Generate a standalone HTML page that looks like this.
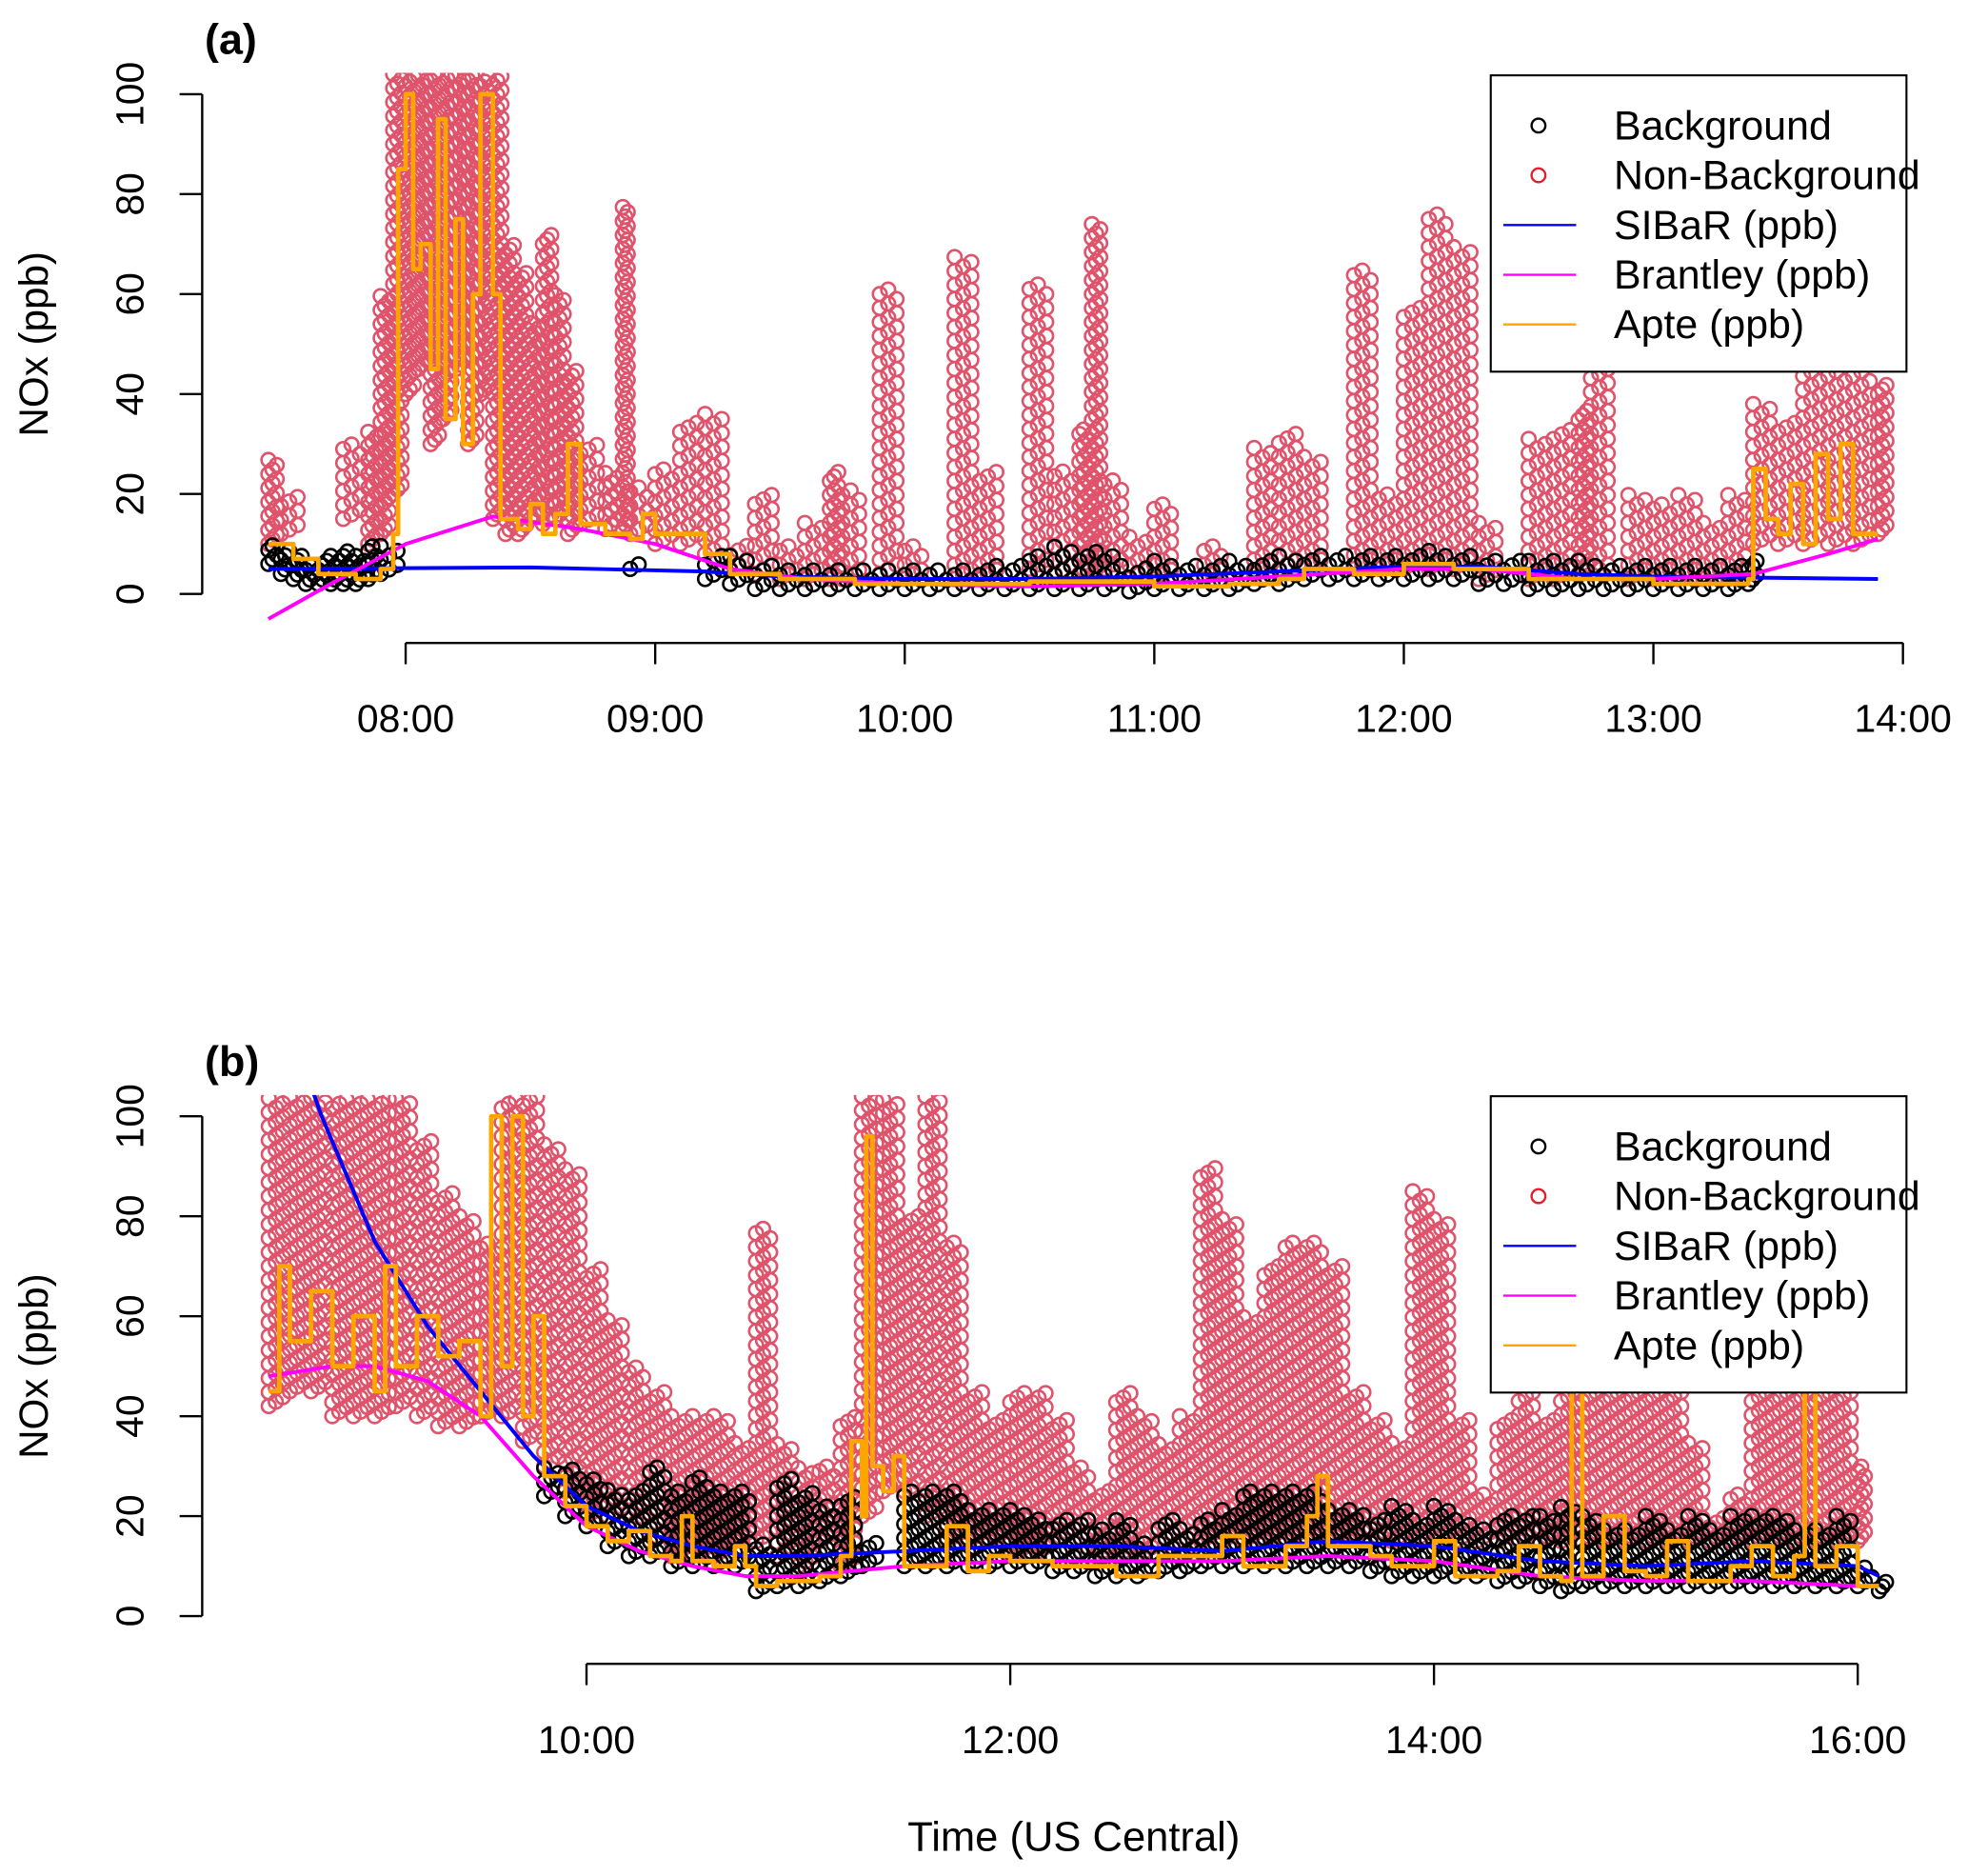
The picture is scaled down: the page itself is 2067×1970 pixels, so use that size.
<!DOCTYPE html>
<html><head><meta charset="utf-8"><style>
html,body{margin:0;padding:0;background:#fff;}
svg{display:block;font-family:"Liberation Sans",Arial,sans-serif;}
</style></head><body>
<svg id="chart" width="2067" height="1970" viewBox="0 0 1567 1494" preserveAspectRatio="none" xmlns="http://www.w3.org/2000/svg">
<defs>
<clipPath id="clipA"><rect x="150" y="58" width="1410" height="460"/></clipPath>
<clipPath id="clipB"><rect x="150" y="872" width="1410" height="460"/></clipPath>
</defs>
<g id="panelA"></g>
<g id="panelB"></g>
</svg>
<script>
// ---------- Panel (a) data ----------
const aBgT=[7.45,7.5,7.55,7.6,7.65,7.7,7.75,7.8,7.85,7.9,8.9,9.2,9.3,9.4,9.5,9.6,9.7,9.8,9.9,10.0,10.1,10.2,10.3,10.4,10.5,10.6,10.7,10.8,10.9,11.0,11.1,11.2,11.3,11.4,11.5,11.6,11.7,11.8,11.9,12.0,12.1,12.2,12.3,12.4,12.5,12.6,12.7,12.8,12.9,13.0,13.1,13.2,13.3,13.38];
const aBgLo=[6,4,3,2,2,2,2,2,3,4,5,3,2,1,1,1,1,1,1,1,1,1,1,1,1,1,1,1,0.5,1,1,1,1,2,2,3,3,3,3,3,3,3,2,2,1,1,1,1,1,1,1,1,1,2];
const aBgHi=[10,9,8,6,7,8,9,8,10,10,6,8,8,6,5,5,5,5,5,5,5,5,6,6,8,10,9,8,6,7,6,6,7,7,8,8,8,8,8,8,9,8,7,7,7,7,7,6,6,6,6,6,6,7];
const aNbT=[7.45,7.5,7.75,7.85,7.9,7.95,8.0,8.05,8.1,8.15,8.2,8.25,8.3,8.35,8.4,8.45,8.5,8.55,8.6,8.65,8.7,8.8,8.87,8.9,9.0,9.1,9.2,9.3,9.4,9.5,9.6,9.7,9.75,9.9,10.0,10.2,10.3,10.5,10.6,10.7,10.75,10.8,10.9,11.0,11.2,11.4,11.5,11.6,11.8,11.9,12.0,12.1,12.2,12.3,12.5,12.6,12.7,12.75,12.9,13.0,13.1,13.2,13.3,13.4,13.5,13.6,13.7,13.8,13.9];
const aNbLo=[10,12,15,10,12,20,40,45,30,35,45,30,40,15,12,12,15,14,15,12,14,13,13,12,10,10,8,5,4,3,3,3,3,4,3,3,3,5,4,4,4,5,3,3,3,4,5,5,5,5,5,5,5,3,3,3,4,4,3,3,3,3,3,10,10,10,10,10,12];
const aNbHi=[27,20,30,33,60,104,104,104,104,104,104,104,104,104,70,65,55,72,60,45,30,25,78,22,25,35,36,10,20,10,15,25,21,61,10,68,25,62,25,33,74,23,12,18,10,30,32,28,65,20,58,76,70,15,31,33,37,45,20,18,20,15,20,38,35,45,45,45,42];
const aApteT=[7.45,7.55,7.65,7.8,7.9,7.95,7.97,8.0,8.03,8.06,8.1,8.13,8.16,8.2,8.23,8.27,8.3,8.35,8.38,8.45,8.5,8.55,8.6,8.65,8.7,8.8,8.9,8.95,9.0,9.2,9.3,9.5,9.8,10.0,10.5,11.0,11.3,11.5,11.6,11.8,12.0,12.2,12.5,12.8,13.0,13.3,13.38,13.4,13.45,13.5,13.55,13.6,13.65,13.7,13.75,13.8,13.9];
const aApteV=[10,7,4,3,5,12,85,100,65,70,45,95,35,75,30,60,100,60,15,13,18,12,16,30,14,12,11,16,12,8,4,3,2,2,2.5,1.5,2,3,5,4,6,5,3,3,2,2,3,25,15,12,22,10,28,15,30,12,12];
const aSibT=[7.45,8.5,9.2,9.5,10,10.5,11,11.5,12,12.3,12.7,13,13.9];
const aSibV=[5,5.3,4.5,3.5,3,3,3.5,4.5,5.5,5.5,4,3.5,3];
const aBraT=[7.45,7.7,8.0,8.35,8.7,9.0,9.3,9.6,10,10.5,11,11.5,12,12.3,12.7,13.0,13.4,13.7,13.9];
const aBraV=[-5,2,10,15.5,13,10,5,3,2,1.5,2,3.5,5,5,3,3,4,8,11];
const aTicksT=[8,9,10,11,12,13,14];
const aTickLabels=["08:00","09:00","10:00","11:00","12:00","13:00","14:00"];
// ---------- Panel (b) data ----------
const bNbT=[8.5,8.6,8.7,8.8,8.9,9.0,9.1,9.2,9.3,9.4,9.5,9.6,9.7,9.8,9.9,10.0,10.1,10.2,10.3,10.4,10.5,10.6,10.7,10.8,10.9,11.0,11.1,11.2,11.3,11.4,11.5,11.6,11.7,11.8,11.9,12.0,12.1,12.2,12.3,12.4,12.5,12.6,12.7,12.8,12.9,13.0,13.1,13.2,13.3,13.4,13.5,13.6,13.7,13.8,13.9,14.0,14.1,14.2,14.3,14.4,14.5,14.6,14.7,14.8,14.9,15.0,15.1,15.2,15.3,15.4,15.5,15.6,15.7,15.8,15.9,16.0];
const bNbLo=[42,45,45,40,40,40,42,40,38,38,40,40,35,30,25,20,20,18,15,12,12,12,15,15,12,10,15,10,20,25,25,20,15,15,15,12,12,15,12,12,12,12,12,12,15,15,15,15,15,15,15,15,15,15,15,15,15,15,15,15,15,15,15,15,15,15,15,15,15,15,15,15,15,15,15,15];
const bNbHi=[104,104,104,104,104,104,104,95,85,80,75,104,104,95,90,70,60,50,45,40,40,40,35,78,35,30,30,40,104,104,80,104,75,45,40,45,45,40,30,25,45,40,35,40,90,80,60,70,75,75,70,45,40,35,85,80,40,25,40,45,40,45,45,45,45,45,45,35,20,25,45,45,45,45,45,30];
const bBgT=[9.8,9.9,10.0,10.1,10.2,10.3,10.4,10.5,10.6,10.7,10.8,10.9,11.0,11.1,11.2,11.3,11.5,11.6,11.7,11.8,11.9,12.0,12.1,12.2,12.3,12.4,12.5,12.6,12.7,12.8,12.9,13.0,13.1,13.2,13.3,13.4,13.5,13.6,13.7,13.8,13.9,14.0,14.1,14.2,14.3,14.4,14.5,14.6,14.7,14.8,14.9,15.0,15.1,15.2,15.3,15.4,15.5,15.6,15.7,15.8,15.9,16.0,16.1];
const bBgLo=[24,20,18,14,12,12,10,10,10,10,5,6,6,7,8,10,10,10,10,10,10,10,10,9,9,8,8,8,9,9,10,10,10,10,10,10,10,10,9,8,8,8,8,8,7,7,6,5,6,6,6,6,6,6,6,6,6,6,6,6,6,6,5];
const bBgHi=[30,30,28,26,25,30,25,28,25,25,15,28,25,22,24,15,25,25,25,22,22,22,20,20,20,18,20,15,20,18,20,22,25,25,25,25,22,22,20,22,20,22,20,18,20,20,20,22,20,18,18,20,18,20,18,20,20,20,18,18,20,10,7];
const bApteT=[8.5,8.55,8.6,8.7,8.8,8.9,9.0,9.05,9.1,9.2,9.3,9.4,9.5,9.55,9.6,9.65,9.7,9.75,9.8,9.9,10.0,10.1,10.2,10.3,10.4,10.45,10.5,10.6,10.7,10.75,10.8,10.9,11.0,11.1,11.2,11.25,11.3,11.32,11.35,11.4,11.45,11.5,11.6,11.7,11.8,11.9,12.0,12.2,12.4,12.5,12.7,12.9,13.0,13.1,13.3,13.4,13.45,13.5,13.7,13.8,14.0,14.1,14.3,14.4,14.5,14.6,14.65,14.7,14.8,14.9,15.0,15.1,15.2,15.4,15.5,15.6,15.7,15.75,15.8,15.9,16.0,16.1];
const bApteV=[45,70,55,65,50,60,45,70,50,60,52,55,40,100,50,100,40,60,28,22,18,15,17,12,11,20,11,10,14,10,6,7,7,8,12,35,20,96,30,25,32,10,10,18,9,12,11,10,10,8,12,12,16,10,14,20,28,14,12,10,15,8,9,14,8,7,50,8,20,9,8,15,7,10,14,8,12,45,10,14,6,6];
const bSibT=[8.5,8.75,9.0,9.25,9.5,9.75,10.0,10.25,10.5,10.75,11.0,11.5,12.0,12.5,13.0,13.5,14.0,14.5,15.0,15.5,16.0,16.1];
const bSibV=[130,100,75,58,45,32,22,17,14,12,12,13,14,14,13,15,14,11,10,11,10,8];
const bBraT=[8.5,8.8,9.0,9.25,9.5,9.75,10.0,10.25,10.5,10.75,11.0,11.5,12.0,12.5,13.0,13.5,14.0,14.5,15.0,15.5,16.0,16.1];
const bBraV=[48,50,50,47,40,28,18,13,10,8,8,10,11,11,11,12,11,8,7,7,6,6];
const bTicksT=[10,12,14,16];
const bTickLabels=["10:00","12:00","14:00","16:00"];
const yTicks=[0,20,40,60,80,100];

const NS="http://www.w3.org/2000/svg";
function mk(tag,attrs,parent){const e=document.createElementNS(NS,tag);for(const k in attrs)e.setAttribute(k,attrs[k]);parent.appendChild(e);return e;}

function drawPanel(root,cfg){
  const X=t=>cfg.x0+(t-cfg.t0)*cfg.pxPerH, Y=v=>cfg.y0-v*3.98;
  const clip=mk('g',{'clip-path':'url(#'+cfg.clip+')'},root);
  function cloud(T,Lo,Hi,color,name){
    const g=mk('g',{fill:'none',stroke:color,'stroke-width':2},clip);
    
    
    for(let i=0;i<T.length;i++){
      const next=i<T.length-1?Math.min(T[i+1]-T[i],0.1):0.05;
      for(let s=0;s<3;s++){
        const t=T[i]+next*s/3;
        for(let v=Lo[i]+s*0.9;v<=Hi[i]+0.01;v+=2.8){
          mk('circle',{cx:X(t).toFixed(1),cy:Y(v).toFixed(1),r:5.5},g);
        }
      }
    }
  }
  cloud(cfg.nbT,cfg.nbLo,cfg.nbHi,'#DF536B','non-background-points');
  cloud(cfg.bgT,cfg.bgLo,cfg.bgHi,'#000','background-points');
  function line(T,V,color,w,name,step){
    let d='';
    for(let i=0;i<T.length;i++){
      if(i===0)d+='M'+X(T[i]).toFixed(1)+','+Y(V[i]).toFixed(1);
      else if(step)d+='H'+X(T[i]).toFixed(1)+'V'+Y(V[i]).toFixed(1);
      else d+='L'+X(T[i]).toFixed(1)+','+Y(V[i]).toFixed(1);
    }
    const p=mk('path',{d:d,fill:'none',stroke:color,'stroke-width':w,'stroke-linejoin':'round'},clip);
    
    
  }
  line(cfg.sibT,cfg.sibV,'#0000FF',3,'sibar-line',false);
  line(cfg.braT,cfg.braV,'#FF00FF',3,'brantley-line',false);
  line(cfg.apT,cfg.apV,'#FFA500',3.6,'apte-line',true);
  const ya=mk('g',{stroke:'#000','stroke-width':1.8},root);
  
  
  mk('line',{x1:161,x2:161,y1:Y(0),y2:Y(100)},ya);
  yTicks.forEach(v=>{
    mk('line',{x1:143,x2:161,y1:Y(v),y2:Y(v)},ya);
    const tx=mk('text',{x:114,y:Y(v),'font-size':31,'text-anchor':'middle',transform:'rotate(-90 114 '+Y(v)+')',stroke:'none',fill:'#000'},ya);
    tx.textContent=v;
    
    
  });
  const yt=mk('text',{x:38,y:(Y(0)+Y(100))/2,'font-size':32,'text-anchor':'middle',transform:'rotate(-90 38 '+(Y(0)+Y(100))/2+')'},root);
  yt.textContent='NOx (ppb)';
  
  
  const xa=mk('g',{stroke:'#000','stroke-width':1.8},root);
  
  
  const ticks=cfg.ticks;
  mk('line',{x1:X(ticks[0]),x2:X(ticks[ticks.length-1]),y1:cfg.axY,y2:cfg.axY},xa);
  ticks.forEach((t,i)=>{
    mk('line',{x1:X(t),x2:X(t),y1:cfg.axY,y2:cfg.axY+17},xa);
    const tx=mk('text',{x:X(t),y:cfg.axY+71,'font-size':31,'text-anchor':'middle',stroke:'none',fill:'#000'},xa);
    tx.textContent=cfg.labels[i];
    
    
  });
  const pl=mk('text',{x:163,y:cfg.y0-430,'font-size':34,'font-weight':'bold'},root);
  pl.textContent=cfg.tag;
  
  
  const lg=mk('g',{},root);
  
  
  const ly=cfg.legY;
  mk('rect',{x:1187,y:ly,width:331,height:236,fill:'#fff',stroke:'#000','stroke-width':1.6},lg);
  const items=[['Background','pt','#000'],['Non-Background','pt','#E0202F'],['SIBaR (ppb)','ln','#0000FF'],['Brantley (ppb)','ln','#FF00FF'],['Apte (ppb)','ln','#FFA500']];
  items.forEach((it,i)=>{
    const yy=ly+40+i*39.6;
    const e=mk('g',{},lg);
    
    
    if(it[1]==='pt')mk('circle',{cx:1225,cy:yy,r:5.5,fill:'none',stroke:it[2],'stroke-width':1.8},e);
    else mk('line',{x1:1197,x2:1255,y1:yy,y2:yy,stroke:it[2],'stroke-width':1.8},e);
    const t=mk('text',{x:1285,y:yy+11,'font-size':32.5},e);
    t.textContent=it[0];
  });
}
drawPanel(document.getElementById('panelA'),{x0:323,t0:8,pxPerH:198.7,y0:473,clip:'clipA',
  nbT:aNbT,nbLo:aNbLo,nbHi:aNbHi,bgT:aBgT,bgLo:aBgLo,bgHi:aBgHi,apT:aApteT,apV:aApteV,
  sibT:aSibT,sibV:aSibV,braT:aBraT,braV:aBraV,ticks:aTicksT,labels:aTickLabels,axY:512,tag:'(a)',legY:60});
drawPanel(document.getElementById('panelB'),{x0:467,t0:10,pxPerH:168.7,y0:1287,clip:'clipB',
  nbT:bNbT,nbLo:bNbLo,nbHi:bNbHi,bgT:bBgT,bgLo:bBgLo,bgHi:bBgHi,apT:bApteT,apV:bApteV,
  sibT:bSibT,sibV:bSibV,braT:bBraT,braV:bBraV,ticks:bTicksT,labels:bTickLabels,axY:1325,tag:'(b)',legY:873});
const xt=document.createElementNS(NS,'text');
xt.setAttribute('x',855);xt.setAttribute('y',1474);xt.setAttribute('font-size',33);xt.setAttribute('text-anchor','middle');
xt.textContent='Time (US Central)';


document.getElementById('chart').appendChild(xt);
</script>
</body></html>
